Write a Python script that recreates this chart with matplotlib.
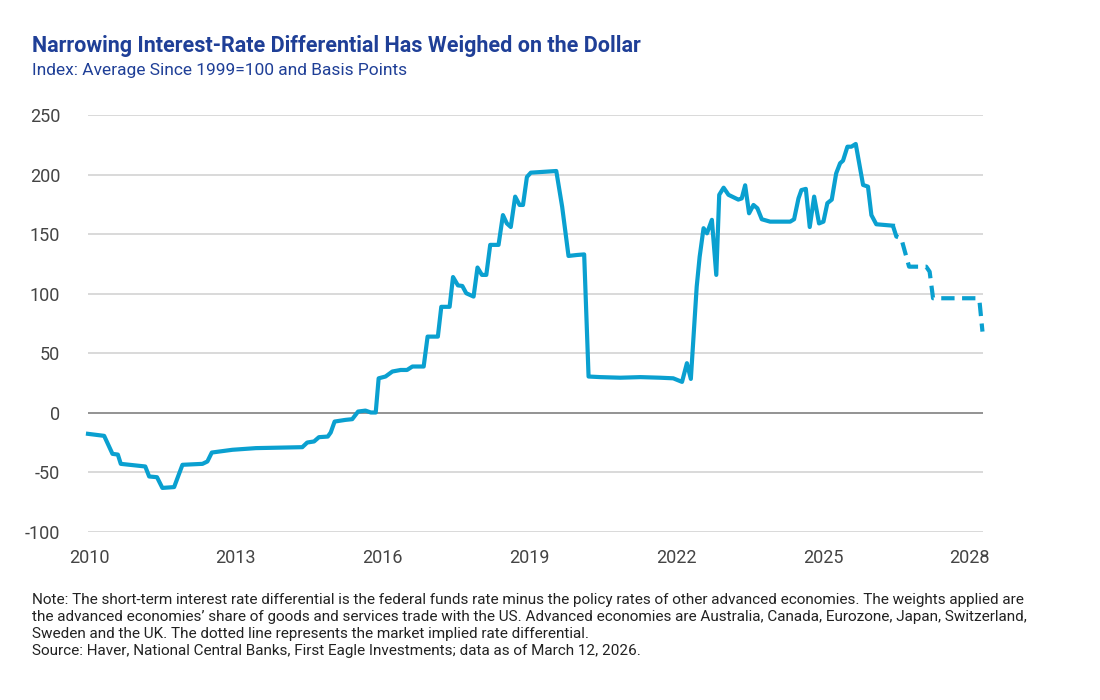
import matplotlib
matplotlib.use("Agg")
import matplotlib.pyplot as plt

# ------------------------------------
# Data (decimal years)
# ------------------------------------
hist_t = [2009.98, 2010.31, 2010.48, 2010.59, 2010.65, 2011.15, 2011.23, 2011.39,
          2011.50, 2011.74, 2011.91, 2012.32, 2012.42, 2012.51, 2012.93, 2013.41,
          2014.36, 2014.46, 2014.60, 2014.70, 2014.88, 2014.94, 2015.02, 2015.24,
          2015.38, 2015.50, 2015.65, 2015.76, 2015.86, 2015.92, 2016.06, 2016.20,
          2016.37, 2016.50, 2016.61, 2016.84, 2016.92, 2017.13, 2017.20, 2017.37,
          2017.44, 2017.54, 2017.63, 2017.71, 2017.86, 2017.94, 2018.03, 2018.12,
          2018.20, 2018.37, 2018.46, 2018.54, 2018.62, 2018.71, 2018.80, 2018.87,
          2018.95, 2019.03, 2019.55, 2019.67, 2019.80, 2019.97, 2020.12, 2020.21,
          2020.45, 2020.86, 2021.27, 2021.67, 2021.94, 2022.12, 2022.22, 2022.30,
          2022.42, 2022.48, 2022.56, 2022.63, 2022.73, 2022.82, 2022.88, 2022.97,
          2023.07, 2023.27, 2023.34, 2023.41, 2023.49, 2023.58, 2023.66, 2023.75,
          2023.92, 2024.33, 2024.41, 2024.50, 2024.56, 2024.65, 2024.73, 2024.82,
          2024.92, 2025.01, 2025.09, 2025.18, 2025.27, 2025.35, 2025.41, 2025.50,
          2025.58, 2025.67, 2025.82, 2025.92, 2025.99, 2026.09, 2026.43]
hist_v = [-17.6, -19.3, -34.4, -35, -42.8, -45, -53.4, -54,
          -63, -62.3, -43.6, -42.8, -40.8, -33.3, -31, -29.6,
          -28.8, -24.9, -24, -20.4, -19.9, -16.5, -7.3, -5.9,
          -5.3, 1.1, 1.9, 0.3, 0.3, 29, 30.5, 34.7,
          36, 36, 38.9, 38.9, 64, 64, 89, 89,
          114, 107, 106.5, 100.4, 97.6, 122, 115.8, 115.8,
          141, 141, 166, 159, 156, 181.5, 174.5, 174.5,
          198, 201.6, 203, 173, 131.7, 132.5, 133, 30.5,
          30, 29.5, 30, 29.5, 29, 26, 41.7, 28.5,
          106, 131, 155, 150.7, 162, 115.8, 183, 189,
          183, 179, 180, 191, 167.5, 174.5, 171.7, 162.5,
          160.5, 160.5, 162.5, 180, 187, 188, 156, 181.5,
          159, 160.5, 176, 179, 201, 209.5, 211.7, 223.4,
          223.4, 225.7, 191.3, 189.9, 166, 158.3, 157.1]

# market implied path (dashed)
impl_t = [2026.43, 2026.50, 2026.60, 2026.76, 2027.11, 2027.18, 2027.25,
          2028.17, 2028.20, 2028.26]
impl_v = [157.1, 148, 146.5, 122.7, 122.7, 118.5, 96.2, 96.2, 93.4, 68.2]

x_ticks = [2010, 2013, 2016, 2019, 2022, 2025, 2028]
y_ticks = [-100, -50, 0, 50, 100, 150, 200, 250]

title = "Narrowing Interest-Rate Differential Has Weighed on the Dollar"
subtitle = "Index: Average Since 1999=100 and Basis Points"
note_lines = [
    "Note: The short-term interest rate differential is the federal funds rate minus the policy rates of other advanced economies. The weights applied are",
    "the advanced economies\u2019 share of goods and services trade with the US. Advanced economies are Australia, Canada, Eurozone, Japan, Switzerland,",
    "Sweden and the UK. The dotted line represents the market implied rate differential.",
    "Source: Haver, National Central Banks, First Eagle Investments; data as of March 12, 2026.",
]

# ------------------------------------
# Styling
# ------------------------------------
plt.rcParams["font.family"] = ["Roboto", "DejaVu Sans"]
plt.rcParams["axes.unicode_minus"] = False
LINE = "#0aa0d0"
NAVY = "#1f3f97"
TICK = "#444444"

fig = plt.figure(figsize=(11, 7), dpi=100)
ax = fig.add_axes([0.08, 0.24, 0.8136, 0.5957])

for y in y_ticks:
    if y == 0:
        ax.axhline(y, color="#8a8a8a", linewidth=1.3, zorder=1)
    else:
        ax.axhline(y, color="#cfcfcf", linewidth=1.1, zorder=1)

ax.plot(hist_t, hist_v, color=LINE, linewidth=3.0, solid_joinstyle="round",
        clip_on=False, zorder=3)
ax.plot(impl_t, impl_v, color=LINE, linewidth=3.0, linestyle=(0, (3.2, 1.8)),
        clip_on=False, zorder=3)

ax.set_xlim(2009.98, 2028.27)
ax.set_ylim(-100, 250)
ax.set_xticks(x_ticks)
ax.set_yticks(y_ticks)
ax.tick_params(axis="both", length=0, labelsize=13, colors=TICK)
ax.tick_params(axis="y", pad=20)
ax.tick_params(axis="x", pad=12)
for s in ax.spines.values():
    s.set_visible(False)

fig.text(0.029, 1 - 46 / 700, title, fontsize=15.5, fontweight="bold", color=NAVY,
         va="center", ha="left")
fig.text(0.029, 1 - 71 / 700, subtitle, fontsize=12.5, color=NAVY,
         va="center", ha="left")
for i, line in enumerate(note_lines):
    fig.text(0.029, 1 - (600 + 17 * i) / 700, line, fontsize=11, color="#222222",
             va="center", ha="left")

plt.savefig("out.png", dpi=100)
plt.close()
